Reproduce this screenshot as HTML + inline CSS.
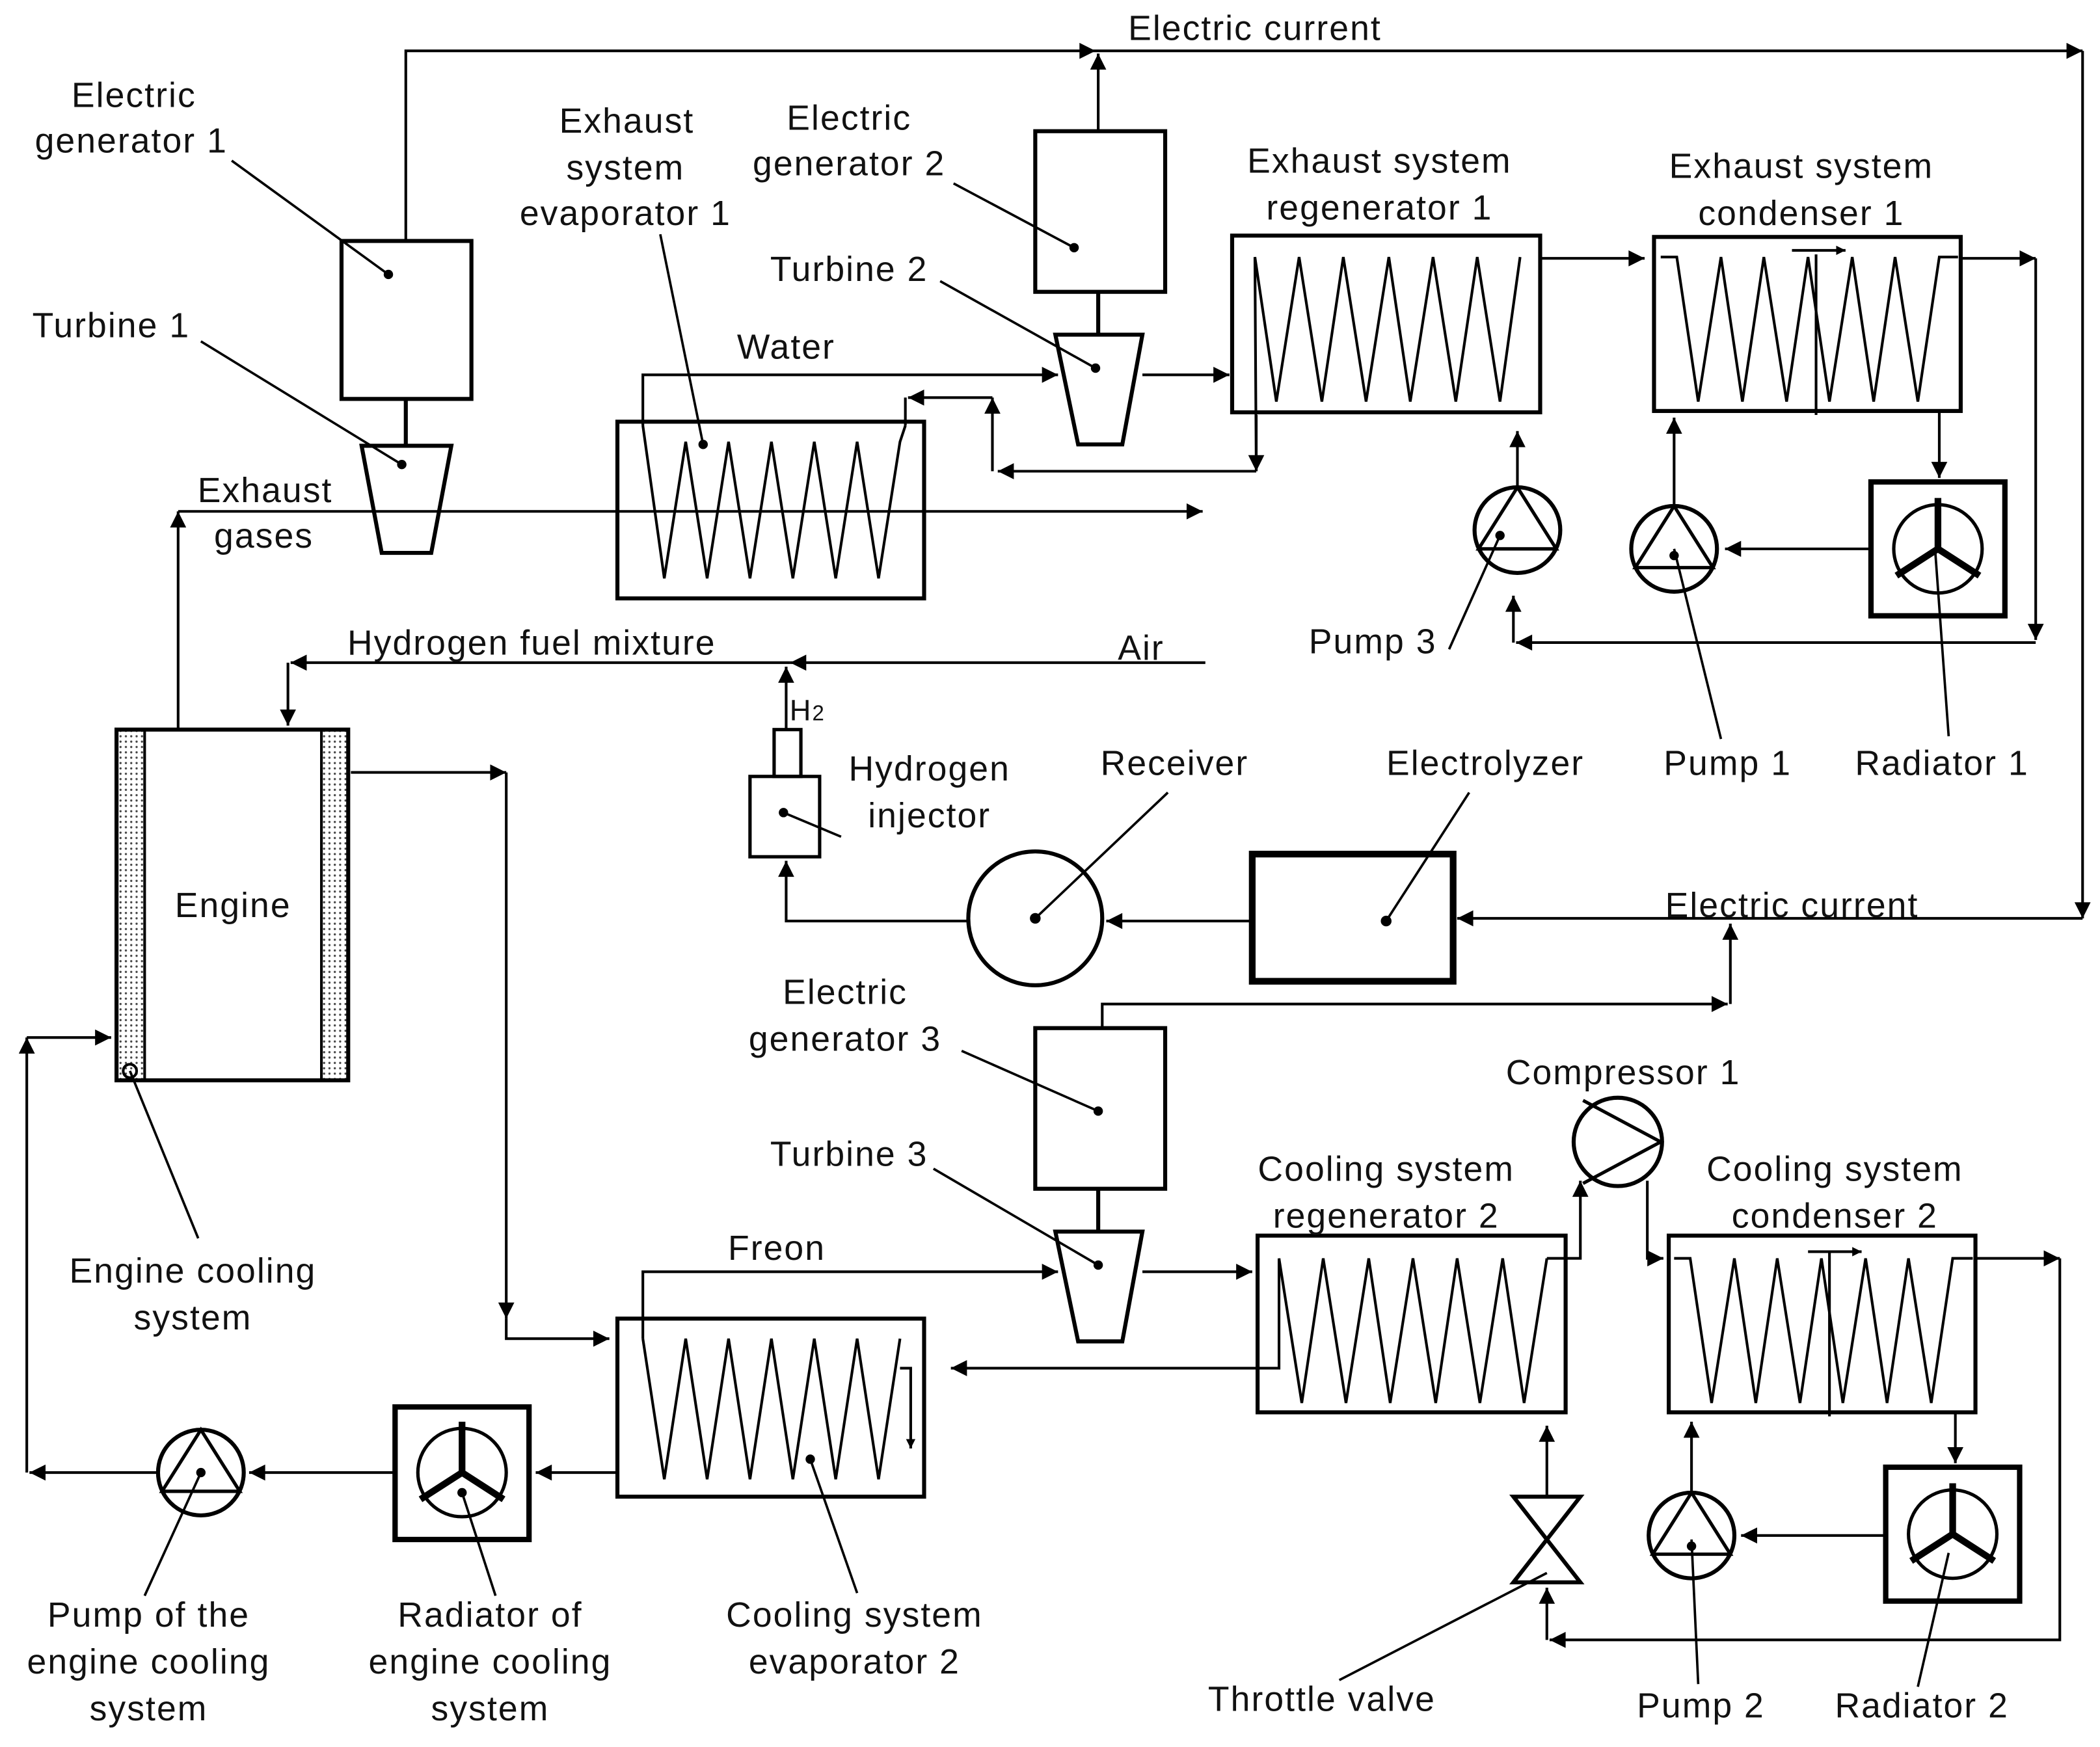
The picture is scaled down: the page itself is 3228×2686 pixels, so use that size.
<!DOCTYPE html>
<html><head><meta charset="utf-8"><style>
html,body{margin:0;padding:0;background:#fff}
svg{display:block}
text{font-family:"Liberation Sans",sans-serif;font-size:26px;letter-spacing:1px;fill:#111;text-anchor:middle}
</style></head><body>
<svg width="3228" height="2686" viewBox="0 0 1568 1305" preserveAspectRatio="none" xmlns="http://www.w3.org/2000/svg">
<defs>
<marker id="a" viewBox="0 0 10 10" refX="10" refY="5" markerWidth="7" markerHeight="7" orient="auto" markerUnits="userSpaceOnUse"><path d="M0,0 L10,5 L0,10z" fill="#000"/></marker>
<marker id="b" viewBox="0 0 10 10" refX="10" refY="5" markerWidth="14" markerHeight="12" orient="auto" markerUnits="userSpaceOnUse"><path d="M0,0 L10,5 L0,10z" fill="#000"/></marker>
<pattern id="dots" width="4" height="4" patternUnits="userSpaceOnUse"><rect width="4" height="4" fill="#fff"/><circle cx="2" cy="2" r="0.8" fill="#444"/></pattern>
</defs>
<g fill="none" stroke="#000" stroke-width="2">
<polyline points="303,180 303,38 818,38" marker-end="url(#b)"/>
<polyline points="818,38 1555,38" marker-end="url(#b)"/>
<polyline points="1555,38 1555,686" marker-end="url(#b)"/>
<line x1="820" y1="98" x2="820" y2="40" marker-end="url(#b)"/>
<rect x="255" y="180" width="97" height="118" stroke-width="3"/>
<line x1="303" y1="298" x2="303" y2="333" stroke-width="3"/>
<polygon points="270,333 337,333 322,413 285,413" stroke-width="3"/>
<rect x="773" y="98" width="97" height="120" stroke-width="3"/>
<line x1="820" y1="218" x2="820" y2="250" stroke-width="3"/>
<polygon points="788,250 853,250 838,332 805,332" stroke-width="3"/>
<rect x="461" y="315" width="229" height="132" stroke-width="3"/>
<polyline points="480,318 496,432 512,330 528,432 544,330 560,432 576,330 592,432 608,330 624,432 640,330 656,432 672,330 676,318"/>
<polyline points="480,318 480,280 790,280" marker-end="url(#b)"/>
<polyline points="938,310 938,352" marker-end="url(#b)"/>
<polyline points="938,352 745,352" marker-end="url(#b)"/>
<polyline points="741,352 741,297" marker-end="url(#b)"/>
<polyline points="741,297 678,297" marker-end="url(#b)"/>
<line x1="676" y1="297" x2="676" y2="318"/>
<polyline points="133,545 133,382" marker-end="url(#b)"/>
<polyline points="133,382 898,382" marker-end="url(#b)"/>
<line x1="853" y1="280" x2="918" y2="280" marker-end="url(#b)"/>
<rect x="920" y="176" width="230" height="132" stroke-width="3"/>
<polyline points="938,352 937,192 953,300 970,192 987,300 1003,192 1020,300 1037,192 1053,300 1070,192 1087,300 1103,192 1120,300 1135,192"/>
<line x1="1150" y1="193" x2="1228" y2="193" marker-end="url(#b)"/>
<rect x="1235" y="177" width="229" height="130" stroke-width="3"/>
<polyline points="1240,192 1252,192 1268,300 1285,192 1301,300 1317,192 1334,300 1350,192 1366,300 1383,192 1399,300 1415,192 1432,300 1448,192 1462,192"/>
<line x1="1356" y1="190" x2="1356" y2="310"/>
<line x1="1338" y1="187" x2="1378" y2="187" marker-end="url(#a)"/>
<line x1="1464" y1="193" x2="1520" y2="193" marker-end="url(#b)"/>
<polyline points="1520,193 1520,478" marker-end="url(#b)"/>
<polyline points="1520,480 1132,480" marker-end="url(#b)"/>
<line x1="1130" y1="480" x2="1130" y2="445" marker-end="url(#b)"/>
<circle cx="1133" cy="396" r="32" stroke-width="3"/>
<polygon points="1133,364 1104,410 1162,410" stroke-width="2.5"/>
<line x1="1133" y1="364" x2="1133" y2="322" marker-end="url(#b)"/>
<circle cx="1250" cy="410" r="32" stroke-width="3"/>
<polygon points="1250,378 1221,424 1279,424" stroke-width="2.5"/>
<line x1="1250" y1="378" x2="1250" y2="312" marker-end="url(#b)"/>
<rect x="1397" y="360" width="100" height="100" stroke-width="4"/>
<circle cx="1447" cy="410" r="33" stroke-width="2.5"/>
<path d="M1447,372 L1447,410 L1416,430 M1447,410 L1478,430" stroke-width="5"/>
<line x1="1448" y1="307" x2="1448" y2="357" marker-end="url(#b)"/>
<line x1="1397" y1="410" x2="1288" y2="410" marker-end="url(#b)"/>
<polyline points="900,495 590,495" marker-end="url(#b)"/>
<polyline points="590,495 217,495" marker-end="url(#b)"/>
<polyline points="215,495 215,542" marker-end="url(#b)"/>
<polyline points="587,545 587,498" marker-end="url(#b)"/>
<rect x="578" y="545" width="20" height="35" stroke-width="2.5"/>
<rect x="560" y="580" width="52" height="60" stroke-width="2.5"/>
<circle cx="773" cy="686" r="50" stroke-width="3"/>
<polyline points="723,688 587,688 587,643" marker-end="url(#b)"/>
<line x1="935" y1="688" x2="826" y2="688" marker-end="url(#b)"/>
<rect x="935" y="638" width="150" height="95" stroke-width="5"/>
<polyline points="1555,686 1088,686" marker-end="url(#b)"/>
<polyline points="823,768 823,750 1290,750" marker-end="url(#b)"/>
<line x1="1292" y1="750" x2="1292" y2="690" marker-end="url(#b)"/>
<rect x="87" y="545" width="21" height="262" fill="url(#dots)" stroke-width="2"/>
<rect x="240" y="545" width="20" height="262" fill="url(#dots)" stroke-width="2"/>
<rect x="87" y="545" width="173" height="262" stroke-width="3"/>
<circle cx="97" cy="800" r="5" stroke-width="2"/>
<polyline points="262,577 378,577" marker-end="url(#b)"/>
<polyline points="378,577 378,985" marker-end="url(#b)"/>
<polyline points="378,985 378,1000 455,1000" marker-end="url(#b)"/>
<rect x="773" y="768" width="97" height="120" stroke-width="3"/>
<line x1="820" y1="888" x2="820" y2="920" stroke-width="3"/>
<polygon points="788,920 853,920 838,1002 805,1002" stroke-width="3"/>
<polyline points="480,1000 480,950 790,950" marker-end="url(#b)"/>
<line x1="853" y1="950" x2="935" y2="950" marker-end="url(#b)"/>
<rect x="461" y="985" width="229" height="133" stroke-width="3"/>
<polyline points="480,1000 496,1105 512,1000 528,1105 544,1000 560,1105 576,1000 592,1105 608,1000 624,1105 640,1000 656,1105 672,1000"/>
<polyline points="955,940 955,1022 710,1022" marker-end="url(#b)"/>
<polyline points="672,1022 680,1022 680,1082" marker-end="url(#a)"/>
<rect x="939" y="923" width="230" height="132" stroke-width="3"/>
<polyline points="955,940 972,1048 988,940 1005,1048 1022,940 1038,1048 1055,940 1072,1048 1088,940 1105,1048 1122,940 1138,1048 1155,940"/>
<polyline points="1155,940 1180,940 1180,882" marker-end="url(#b)"/>
<circle cx="1208" cy="853" r="33" stroke-width="3"/>
<polyline points="1182,822 1240,853 1182,884" stroke-width="2.5"/>
<polyline points="1230,882 1230,940 1242,940" marker-end="url(#b)"/>
<rect x="1246" y="923" width="229" height="132" stroke-width="3"/>
<polyline points="1250,940 1262,940 1278,1048 1295,940 1311,1048 1327,940 1344,1048 1360,940 1376,1048 1393,940 1409,1048 1425,940 1442,1048 1458,940 1473,940"/>
<line x1="1366" y1="935" x2="1366" y2="1058"/>
<line x1="1350" y1="935" x2="1390" y2="935" marker-end="url(#a)"/>
<line x1="1475" y1="940" x2="1538" y2="940" marker-end="url(#b)"/>
<polyline points="1538,940 1538,1225 1157,1225" marker-end="url(#b)"/>
<line x1="1155" y1="1225" x2="1155" y2="1186" marker-end="url(#b)"/>
<polygon points="1130,1118 1180,1118 1130,1182 1180,1182" stroke-width="3"/>
<line x1="1155" y1="1118" x2="1155" y2="1065" marker-end="url(#b)"/>
<circle cx="1263" cy="1147" r="32" stroke-width="3"/>
<polygon points="1263,1115 1234,1161 1292,1161" stroke-width="2.5"/>
<line x1="1263" y1="1115" x2="1263" y2="1062" marker-end="url(#b)"/>
<rect x="1408" y="1096" width="100" height="100" stroke-width="4"/>
<circle cx="1458" cy="1146" r="33" stroke-width="2.5"/>
<path d="M1458,1108 L1458,1146 L1427,1166 M1458,1146 L1489,1166" stroke-width="5"/>
<line x1="1460" y1="1055" x2="1460" y2="1093" marker-end="url(#b)"/>
<line x1="1408" y1="1147" x2="1300" y2="1147" marker-end="url(#b)"/>
<line x1="461" y1="1100" x2="400" y2="1100" marker-end="url(#b)"/>
<rect x="295" y="1051" width="100" height="99" stroke-width="4"/>
<circle cx="345" cy="1100" r="33" stroke-width="2.5"/>
<path d="M345,1062 L345,1100 L314,1120 M345,1100 L376,1120" stroke-width="5"/>
<line x1="295" y1="1100" x2="186" y2="1100" marker-end="url(#b)"/>
<circle cx="150" cy="1100" r="32" stroke-width="3"/>
<polygon points="150,1068 121,1114 179,1114" stroke-width="2.5"/>
<line x1="118" y1="1100" x2="22" y2="1100" marker-end="url(#b)"/>
<polyline points="20,1100 20,775" marker-end="url(#b)"/>
<line x1="20" y1="775" x2="83" y2="775" marker-end="url(#b)"/>
<g stroke-width="1.8">
<line x1="173" y1="120" x2="290" y2="205"/>
<line x1="493" y1="175" x2="525" y2="332"/>
<line x1="712" y1="137" x2="802" y2="185"/>
<line x1="702" y1="210" x2="818" y2="275"/>
<line x1="150" y1="255" x2="300" y2="347"/>
<line x1="872" y1="592" x2="773" y2="686"/>
<line x1="1097" y1="592" x2="1035" y2="688"/>
<line x1="1082" y1="485" x2="1120" y2="400"/>
<line x1="1285" y1="552" x2="1250" y2="410"/>
<line x1="1455" y1="550" x2="1445" y2="412"/>
<line x1="718" y1="785" x2="820" y2="830"/>
<line x1="697" y1="873" x2="820" y2="945"/>
<line x1="148" y1="925" x2="97" y2="800"/>
<line x1="108" y1="1192" x2="150" y2="1100"/>
<line x1="370" y1="1192" x2="345" y2="1115"/>
<line x1="640" y1="1190" x2="605" y2="1090"/>
<line x1="1000" y1="1255" x2="1155" y2="1175"/>
<line x1="1268" y1="1258" x2="1263" y2="1150"/>
<line x1="1432" y1="1260" x2="1455" y2="1160"/>
<line x1="585" y1="607" x2="628" y2="625"/>
</g>
</g>
<g fill="#000">
<circle cx="290" cy="205" r="3.5"/><circle cx="525" cy="332" r="3.5"/><circle cx="802" cy="185" r="3.5"/>
<circle cx="818" cy="275" r="3.5"/><circle cx="300" cy="347" r="3.5"/><circle cx="773" cy="686" r="4"/>
<circle cx="1035" cy="688" r="4"/><circle cx="1120" cy="400" r="3.5"/>
<circle cx="820" cy="830" r="3.5"/><circle cx="820" cy="945" r="3.5"/><circle cx="585" cy="607" r="3.5"/>
<circle cx="150" cy="1100" r="3.5"/><circle cx="345" cy="1115" r="3.5"/><circle cx="605" cy="1090" r="3.5"/>
<circle cx="1263" cy="1155" r="3.5"/><circle cx="1250" cy="415" r="3.5"/>
</g>
<text x="937" y="30">Electric current</text>
<text x="100" y="80">Electric</text><text x="98" y="114">generator 1</text>
<text x="468" y="99">Exhaust</text><text x="467" y="134">system</text><text x="467" y="168">evaporator 1</text>
<text x="634" y="97">Electric</text><text x="634" y="131">generator 2</text>
<text x="634" y="210">Turbine 2</text>
<text x="83" y="252">Turbine 1</text>
<text x="587" y="268">Water</text>
<text x="198" y="375">Exhaust</text><text x="197" y="409">gases</text>
<text x="1030" y="129">Exhaust system</text><text x="1030" y="164">regenerator 1</text>
<text x="1345" y="133">Exhaust system</text><text x="1345" y="168">condenser 1</text>
<text x="397" y="489">Hydrogen fuel mixture</text>
<text x="852" y="493">Air</text>
<text x="603" y="538" style="font-size:22px">H<tspan style="font-size:16px">2</tspan></text>
<text x="694" y="583">Hydrogen</text><text x="694" y="618">injector</text>
<text x="877" y="579">Receiver</text>
<text x="1109" y="579">Electrolyzer</text>
<text x="1025" y="488">Pump 3</text>
<text x="1290" y="579">Pump 1</text>
<text x="1450" y="579">Radiator 1</text>
<text x="174" y="685">Engine</text>
<text x="1338" y="685">Electric current</text>
<text x="631" y="750">Electric</text><text x="631" y="785">generator 3</text>
<text x="1212" y="810">Compressor 1</text>
<text x="634" y="871">Turbine 3</text>
<text x="1035" y="882">Cooling system</text><text x="1035" y="917">regenerator 2</text>
<text x="1370" y="882">Cooling system</text><text x="1370" y="917">condenser 2</text>
<text x="580" y="941">Freon</text>
<text x="144" y="958">Engine cooling</text><text x="144" y="993">system</text>
<text x="111" y="1215">Pump of the</text><text x="111" y="1250">engine cooling</text><text x="111" y="1285">system</text>
<text x="366" y="1215">Radiator of</text><text x="366" y="1250">engine cooling</text><text x="366" y="1285">system</text>
<text x="638" y="1215">Cooling system</text><text x="638" y="1250">evaporator 2</text>
<text x="987" y="1278">Throttle valve</text>
<text x="1270" y="1283">Pump 2</text>
<text x="1435" y="1283">Radiator 2</text>
</svg>
</body></html>
